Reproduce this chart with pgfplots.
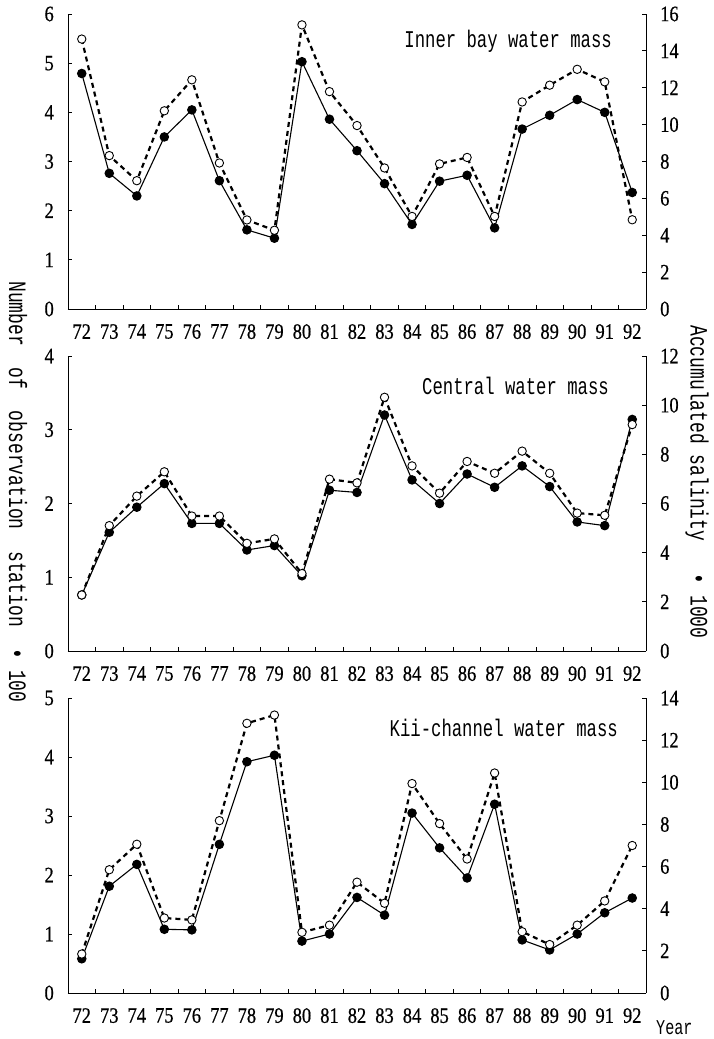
\documentclass[border=0pt]{standalone}
\usepackage{pgfplots}
\pgfplotsset{compat=1.18}
\usepackage{pgfplotstable}
\usepackage{fontspec}
\setmainfont{Liberation Mono}
\newfontfamily\monofont{Liberation Mono}[FakeStretch=0.72]
\newfontfamily\numfont{Liberation Serif}[FakeStretch=0.84, FakeBold=0.6]

% i = year index (0 = 1972), n = stations x100 (left), s = salinity x1000 (right)
\pgfplotstableread{
i  n     s
0  4.79  14.64
1  2.76  8.32
2  2.30  6.96
3  3.50  10.75
4  4.05  12.43
5  2.61  7.92
6  1.61  4.83
7  1.44  4.27
8  5.03  15.41
9  3.86  11.79
10 3.22  9.95
11 2.55  7.65
12 1.72  5.02
13 2.60  7.87
14 2.72  8.22
15 1.65  5.02
16 3.66  11.23
17 3.94  12.14
18 4.26  13.00
19 4.00  12.32
20 2.37  4.84
}\innerbay

\pgfplotstableread{
i  n     s
0  0.76  2.28
1  1.61  5.10
2  1.95  6.30
3  2.27  7.29
4  1.73  5.49
5  1.73  5.49
6  1.37  4.38
7  1.43  4.56
8  1.02  3.15
9  2.18  6.99
10 2.15  6.84
11 3.20  10.32
12 2.32  7.53
13 2.00  6.42
14 2.40  7.71
15 2.22  7.23
16 2.51  8.13
17 2.23  7.23
18 1.75  5.61
19 1.70  5.52
20 3.14  9.21
}\central

\pgfplotstableread{
i  n     s
0  0.58  1.85
1  1.81  5.85
2  2.18  7.06
3  1.08  3.56
4  1.07  3.47
5  2.52  8.18
6  3.92  12.80
7  4.03  13.19
8  0.88  2.88
9  1.00  3.22
10 1.62  5.26
11 1.32  4.26
12 3.05  9.94
13 2.46  8.04
14 1.95  6.36
15 3.20  10.44
16 0.90  2.91
17 0.73  2.30
18 1.00  3.22
19 1.36  4.37
20 1.61  7.00
}\kii

\pgfplotsset{
  yearaxis/.style={
    scale only axis, width=578pt, height=295pt,
    xmin=-0.5, xmax=20.5,
    tick align=inside,
    major tick length=4pt, minor tick length=4pt,
    tick label style={font=\numfont\fontsize{22}{22}\selectfont},
    /pgf/number format/assume math mode=true,
    axis line style={line width=0.9pt},
    every tick/.style={black, line width=0.8pt},
    clip=false,
  },
  leftaxis/.style={yearaxis,
    axis x line*=bottom, axis y line*=left,
    xtick={0,...,20},
    xticklabels={72,73,74,75,76,77,78,79,80,81,82,83,84,85,86,87,88,89,90,91,92},
    major x tick style={draw=none},
    minor xtick={0.5,1.5,...,19.5},
    xticklabel style={anchor=north, inner sep=0pt, yshift=-15pt},
    yticklabel style={anchor=east, inner sep=0pt, xshift=-14pt},
  },
  rightaxis/.style={yearaxis,
    axis x line=none, axis y line*=right,
    xtick=\empty,
    yticklabel style={anchor=west, inner sep=0pt, xshift=14pt},
  },
}
\tikzset{
  nline/.style={black, line width=1.1pt, mark=*, mark size=4.2pt,
    mark options={solid, fill=black}},
  sline/.style={black, line width=2.2pt, dash pattern=on 5pt off 4pt,
    mark=*, mark size=4.2pt, mark options={solid, fill=white, line width=0.9pt}},
  ttl/.style={font=\monofont\fontsize{24}{24}\selectfont, anchor=base east, inner sep=0pt},
}

\begin{document}
\begin{tikzpicture}
\path[use as bounding box] (0pt,0pt) rectangle (713pt,-1039pt);

% Panel 1: Inner bay
\begin{axis}[leftaxis, at={(68pt,-309pt)}, anchor=south west,
  ymin=0, ymax=6, ytick={0,1,...,6}]
  \addplot[nline] table[x=i, y=n] {\innerbay};
\end{axis}
\begin{axis}[rightaxis, at={(68pt,-309pt)}, anchor=south west,
  ymin=0, ymax=16, ytick={0,2,...,16}]
  \addplot[sline] table[x=i, y=s] {\innerbay};
  \node[ttl] at (rel axis cs:1,1) [xshift=-34pt, yshift=-33pt] {Inner bay water mass};
\end{axis}

% Panel 2: Central
\begin{axis}[leftaxis, at={(68pt,-651pt)}, anchor=south west,
  ymin=0, ymax=4, ytick={0,1,...,4}]
  \addplot[nline] table[x=i, y=n] {\central};
\end{axis}
\begin{axis}[rightaxis, at={(68pt,-651pt)}, anchor=south west,
  ymin=0, ymax=12, ytick={0,2,...,12}]
  \addplot[sline] table[x=i, y=s] {\central};
  \node[ttl] at (rel axis cs:1,1) [xshift=-37pt, yshift=-38pt] {Central water mass};
\end{axis}

% Panel 3: Kii-channel
\begin{axis}[leftaxis, at={(68pt,-993pt)}, anchor=south west,
  ymin=0, ymax=5, ytick={0,1,...,5}]
  \addplot[nline] table[x=i, y=n] {\kii};
\end{axis}
\begin{axis}[rightaxis, at={(68pt,-993pt)}, anchor=south west,
  ymin=0, ymax=14, ytick={0,2,...,14}]
  \addplot[sline] table[x=i, y=s] {\kii};
  \node[ttl] at (rel axis cs:1,1) [xshift=-28pt, yshift=-38pt] {Kii-channel water mass};
\end{axis}

% axis titles
\node[rotate=-90, font=\monofont\fontsize{25}{25}\selectfont, inner sep=0pt]
  at (18pt,-492pt) {Number\ \ of\ \ observation\ \ station\ \ •\ 100};
\node[rotate=-90, font=\monofont\fontsize{25}{25}\selectfont, inner sep=0pt]
  at (697pt,-482pt) {Accumulated salinity\ \ \ •\ 1000};
\node[font=\monofont\fontsize{21}{21}\selectfont, anchor=base west, inner sep=0pt]
  at (656pt,-1034pt) {Year};
\end{tikzpicture}
\end{document}
